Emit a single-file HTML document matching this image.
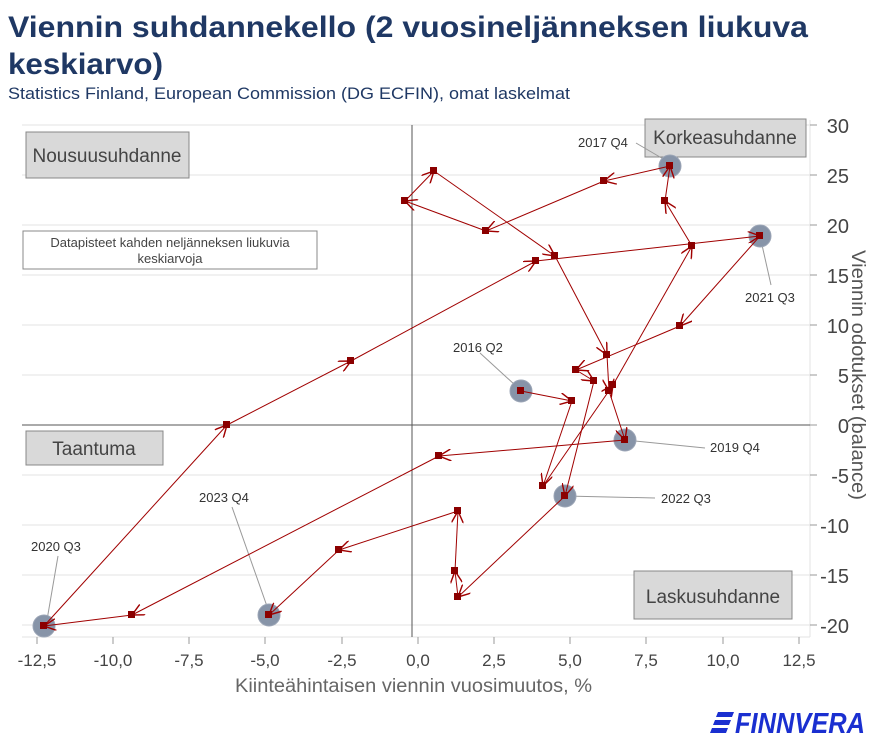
<!DOCTYPE html>
<html><head><meta charset="utf-8"><style>
body{margin:0;background:#fff;width:878px;height:747px;overflow:hidden;font-family:"Liberation Sans",sans-serif;}
</style></head><body>
<svg width="878" height="747" xmlns="http://www.w3.org/2000/svg" font-family="Liberation Sans, sans-serif">
<defs>
<marker id="ar" viewBox="0 0 10 10" refX="10" refY="5" markerWidth="12" markerHeight="12" markerUnits="userSpaceOnUse" orient="auto">
<path d="M0,0 L10,5 L0,10" fill="none" stroke="#a00000" stroke-width="1.2"/></marker>
</defs>
<text x="8" y="37" font-size="30" font-weight="bold" fill="#1f3864" textLength="800" lengthAdjust="spacingAndGlyphs">Viennin suhdannekello (2 vuosineljänneksen liukuva</text>
<text x="8" y="74" font-size="30" font-weight="bold" fill="#1f3864" textLength="155" lengthAdjust="spacingAndGlyphs">keskiarvo)</text>
<text x="8" y="99" font-size="17" fill="#1f3864" textLength="562" lengthAdjust="spacingAndGlyphs">Statistics Finland, European Commission (DG ECFIN), omat laskelmat</text>
<g stroke="#e3e3e3" stroke-width="1">
<line x1="22" y1="125" x2="810" y2="125"/><line x1="22" y1="175" x2="810" y2="175"/>
<line x1="22" y1="225" x2="810" y2="225"/><line x1="22" y1="275" x2="810" y2="275"/>
<line x1="22" y1="325" x2="810" y2="325"/><line x1="22" y1="375" x2="810" y2="375"/>
<line x1="22" y1="475" x2="810" y2="475"/><line x1="22" y1="525" x2="810" y2="525"/>
<line x1="22" y1="575" x2="810" y2="575"/><line x1="22" y1="625" x2="810" y2="625"/>
<line x1="22" y1="637" x2="810" y2="637"/><line x1="810" y1="120" x2="810" y2="637"/>
</g>
<line x1="22" y1="425" x2="810" y2="425" stroke="#555" stroke-width="1"/>
<line x1="412" y1="125" x2="412" y2="637" stroke="#555" stroke-width="1"/>
<g stroke="#999">
<line x1="810" y1="125" x2="817" y2="125"/><line x1="810" y1="175" x2="817" y2="175"/><line x1="810" y1="225" x2="817" y2="225"/><line x1="810" y1="275" x2="817" y2="275"/><line x1="810" y1="325" x2="817" y2="325"/><line x1="810" y1="375" x2="817" y2="375"/><line x1="810" y1="425" x2="817" y2="425"/><line x1="810" y1="475" x2="817" y2="475"/><line x1="810" y1="525" x2="817" y2="525"/><line x1="810" y1="575" x2="817" y2="575"/><line x1="810" y1="625" x2="817" y2="625"/>
<line x1="37" y1="637" x2="37" y2="644"/><line x1="113" y1="637" x2="113" y2="644"/><line x1="189" y1="637" x2="189" y2="644"/><line x1="265" y1="637" x2="265" y2="644"/><line x1="342" y1="637" x2="342" y2="644"/><line x1="418" y1="637" x2="418" y2="644"/><line x1="494" y1="637" x2="494" y2="644"/><line x1="570" y1="637" x2="570" y2="644"/><line x1="646" y1="637" x2="646" y2="644"/><line x1="723" y1="637" x2="723" y2="644"/><line x1="799" y1="637" x2="799" y2="644"/>
</g>
<g font-size="20" fill="#444" text-anchor="end">
<text x="849" y="133">30</text><text x="849" y="183">25</text><text x="849" y="233">20</text><text x="849" y="283">15</text><text x="849" y="333">10</text><text x="849" y="383">5</text><text x="849" y="433">0</text><text x="849" y="483">-5</text><text x="849" y="533">-10</text><text x="849" y="583">-15</text><text x="849" y="633">-20</text>
</g>
<g font-size="17" fill="#444" text-anchor="middle">
<text x="37" y="666">-12,5</text><text x="113" y="666">-10,0</text><text x="189" y="666">-7,5</text><text x="265" y="666">-5,0</text><text x="342" y="666">-2,5</text><text x="418" y="666">0,0</text><text x="494" y="666">2,5</text><text x="570" y="666">5,0</text><text x="646" y="666">7,5</text><text x="723" y="666">10,0</text><text x="799" y="666">12,5</text>
</g>
<text x="235" y="692" font-size="19" fill="#666" textLength="357" lengthAdjust="spacingAndGlyphs">Kiinteähintaisen viennin vuosimuutos, %</text>
<text transform="translate(852,250) rotate(90)" font-size="19" fill="#555" textLength="250" lengthAdjust="spacingAndGlyphs">Viennin odotukset (balance)</text>
<g stroke="#888" fill="#d9d9d9" stroke-width="1">
<rect x="26" y="132" width="163" height="46"/><rect x="26" y="431" width="137" height="34"/>
<rect x="645" y="119" width="161" height="38"/><rect x="634" y="571" width="158" height="48"/>
</g>
<rect x="23" y="231" width="294" height="38" fill="#fff" stroke="#888"/>
<g fill="#444">
<text x="107" y="162" font-size="19" text-anchor="middle">Nousuusuhdanne</text>
<text x="94" y="455" font-size="19" text-anchor="middle">Taantuma</text>
<text x="725" y="144" font-size="19" text-anchor="middle">Korkeasuhdanne</text>
<text x="713" y="603" font-size="19" text-anchor="middle">Laskusuhdanne</text>
<text x="170" y="247" font-size="13" text-anchor="middle">Datapisteet kahden neljänneksen liukuvia</text>
<text x="170" y="263" font-size="13" text-anchor="middle">keskiarvoja</text>
</g>
<g stroke="#999" stroke-width="1">
<line x1="636" y1="143" x2="665" y2="160"/><line x1="760" y1="236" x2="771" y2="285"/>
<line x1="480" y1="353" x2="515" y2="385"/><line x1="625" y1="440" x2="705" y2="448"/>
<line x1="565" y1="496" x2="655" y2="498"/><line x1="232" y1="507" x2="269" y2="612"/>
<line x1="58" y1="556" x2="47" y2="620"/>
</g>
<g fill="#8794a8" stroke="#9aa4b5">
<circle cx="521" cy="391" r="11"/><circle cx="670" cy="166" r="11"/><circle cx="760" cy="236" r="11"/><circle cx="625" cy="440" r="11"/><circle cx="44" cy="626" r="11"/><circle cx="565" cy="496" r="11"/><circle cx="269" cy="615" r="11"/>
</g>
<g font-size="13" fill="#333">
<text x="578" y="147">2017 Q4</text><text x="745" y="302">2021 Q3</text><text x="453" y="352">2016 Q2</text><text x="710" y="452">2019 Q4</text><text x="661" y="503">2022 Q3</text><text x="199" y="502">2023 Q4</text><text x="31" y="551">2020 Q3</text>
</g>
<g fill="none" stroke="#a00000" stroke-width="1" marker-end="url(#ar)">
<line x1="521" y1="391" x2="572" y2="401"/><line x1="572" y1="401" x2="543" y2="486"/><line x1="543" y1="486" x2="613" y2="385"/><line x1="613" y1="385" x2="692" y2="246"/><line x1="692" y1="246" x2="665" y2="201"/><line x1="665" y1="201" x2="670" y2="166"/><line x1="670" y1="166" x2="604" y2="181"/><line x1="604" y1="181" x2="486" y2="231"/><line x1="486" y1="231" x2="405" y2="201"/><line x1="405" y1="201" x2="434" y2="171"/><line x1="434" y1="171" x2="555" y2="256"/><line x1="555" y1="256" x2="607" y2="355"/><line x1="607" y1="355" x2="609" y2="391"/><line x1="609" y1="391" x2="625" y2="440"/><line x1="625" y1="440" x2="439" y2="456"/><line x1="439" y1="456" x2="132" y2="615"/><line x1="132" y1="615" x2="44" y2="626"/><line x1="44" y1="626" x2="227" y2="425"/><line x1="227" y1="425" x2="351" y2="361"/><line x1="351" y1="361" x2="536" y2="261"/><line x1="536" y1="261" x2="760" y2="236"/><line x1="760" y1="236" x2="680" y2="326"/><line x1="680" y1="326" x2="576" y2="370"/><line x1="576" y1="370" x2="594" y2="381"/><line x1="594" y1="381" x2="565" y2="496"/><line x1="565" y1="496" x2="458" y2="597"/><line x1="458" y1="597" x2="455" y2="571"/><line x1="455" y1="571" x2="458" y2="511"/><line x1="458" y1="511" x2="339" y2="550"/><line x1="339" y1="550" x2="269" y2="615"/>
</g>
<g fill="#8b0000">
<rect x="517" y="387" width="7" height="7"/><rect x="568" y="397" width="7" height="7"/><rect x="539" y="482" width="7" height="7"/><rect x="609" y="381" width="7" height="7"/><rect x="688" y="242" width="7" height="7"/><rect x="661" y="197" width="7" height="7"/><rect x="666" y="162" width="7" height="7"/><rect x="600" y="177" width="7" height="7"/><rect x="482" y="227" width="7" height="7"/><rect x="401" y="197" width="7" height="7"/><rect x="430" y="167" width="7" height="7"/><rect x="551" y="252" width="7" height="7"/><rect x="603" y="351" width="7" height="7"/><rect x="605" y="387" width="7" height="7"/><rect x="621" y="436" width="7" height="7"/><rect x="435" y="452" width="7" height="7"/><rect x="128" y="611" width="7" height="7"/><rect x="40" y="622" width="7" height="7"/><rect x="223" y="421" width="7" height="7"/><rect x="347" y="357" width="7" height="7"/><rect x="532" y="257" width="7" height="7"/><rect x="756" y="232" width="7" height="7"/><rect x="676" y="322" width="7" height="7"/><rect x="572" y="366" width="7" height="7"/><rect x="590" y="377" width="7" height="7"/><rect x="561" y="492" width="7" height="7"/><rect x="454" y="593" width="7" height="7"/><rect x="451" y="567" width="7" height="7"/><rect x="454" y="507" width="7" height="7"/><rect x="335" y="546" width="7" height="7"/><rect x="265" y="611" width="7" height="7"/>
</g>
<g fill="#1a2fd0">
<polygon points="718,712 734,712 732,717 716,717"/><polygon points="715,720 731,720 729,725 713,725"/>
<polygon points="712,728 728,728 726,733 710,733"/>
<text x="735" y="733" font-size="29" font-weight="bold" font-style="italic" textLength="130" lengthAdjust="spacingAndGlyphs">FINNVERA</text>
</g>
</svg>
</body></html>
